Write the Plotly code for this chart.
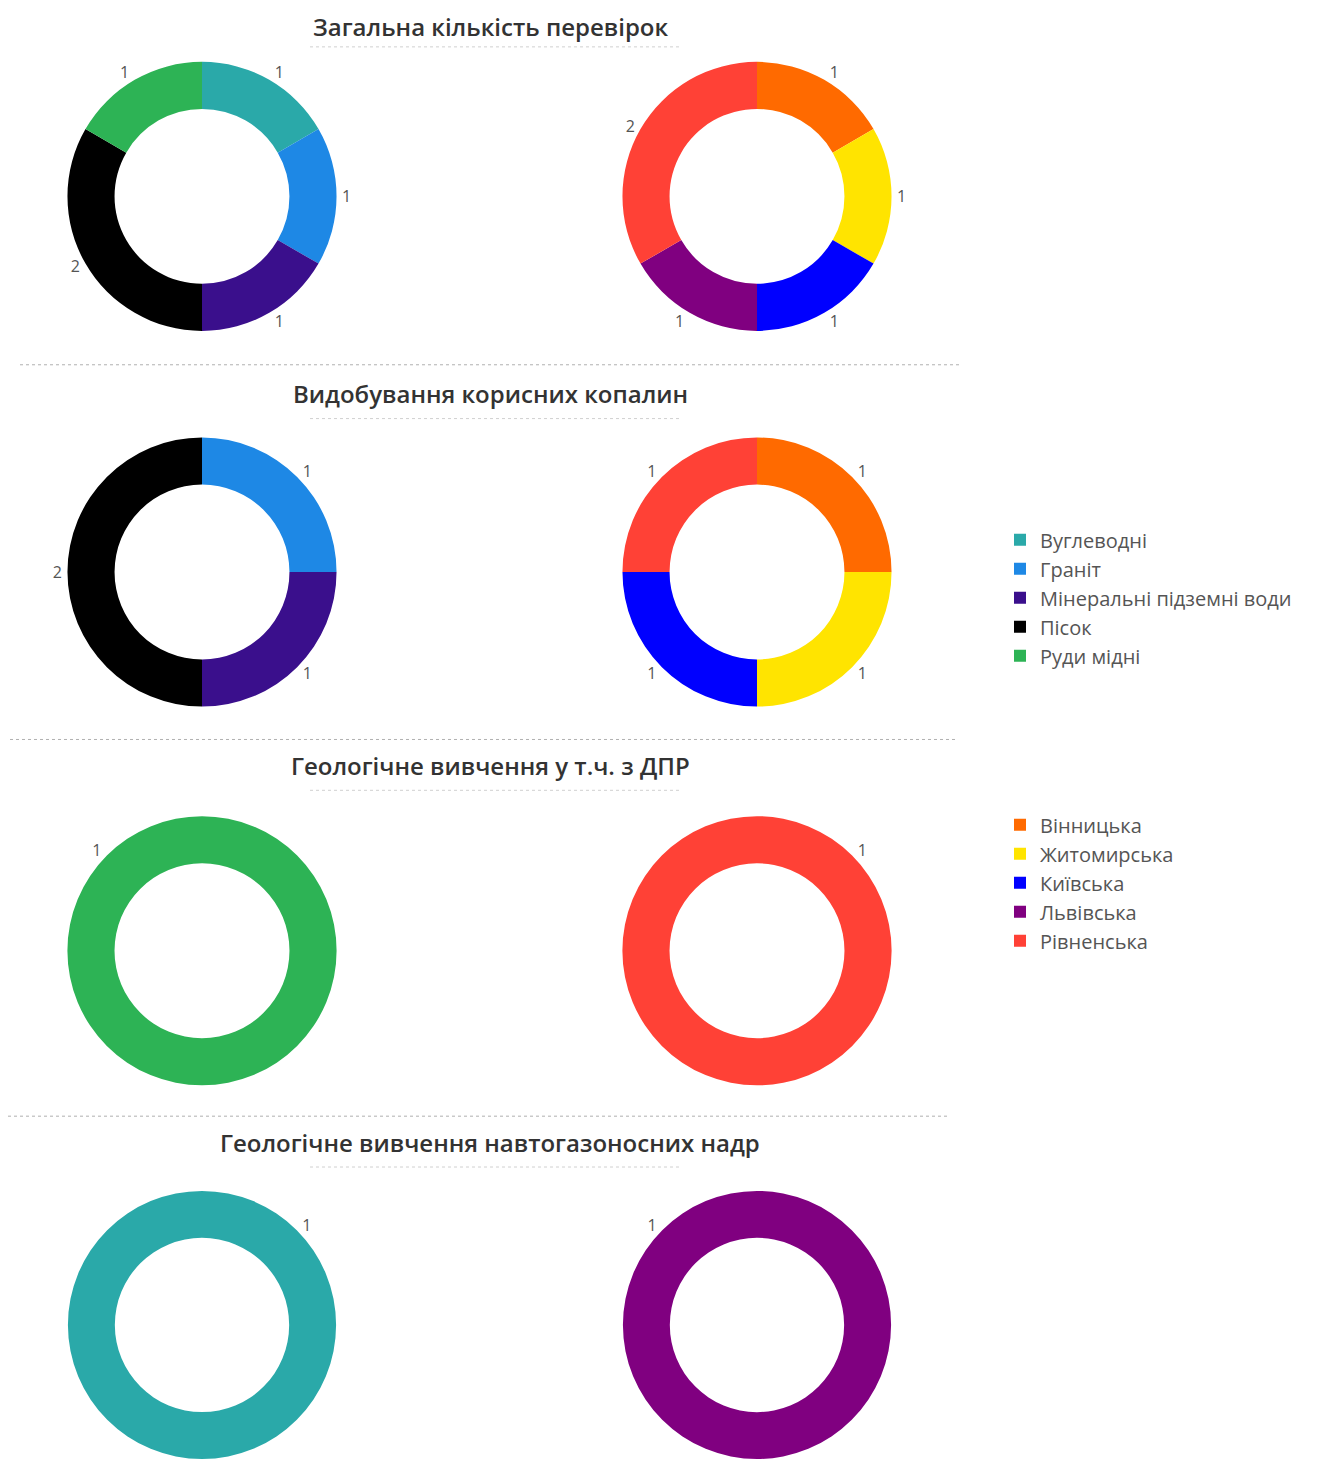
import plotly.graph_objects as go

VW, VH = 1317, 1464
OFF = 8  # default page body margin
W, H = VW - OFF, VH - OFF

titles = [
    "Загальна кількість перевірок",
    "Видобування корисних копалин",
    "Геологічне вивчення у т.ч. з ДПР",
    "Геологічне вивчення навтогазоносних надр",
]

mineral_colors = {
    "Вуглеводні": "#2AA9A9",
    "Граніт": "#1E88E5",
    "Мінеральні підземні води": "#3A0F8C",
    "Пісок": "#000000",
    "Руди мідні": "#2DB355",
}
region_colors = {
    "Вінницька": "#FF6A00",
    "Житомирська": "#FFE400",
    "Київська": "#0000FF",
    "Львівська": "#800080",
    "Рівненська": "#FF4136",
}

# left donuts: by mineral
left_labels = [
    ["Вуглеводні", "Граніт", "Мінеральні підземні води", "Пісок", "Руди мідні"],
    ["Граніт", "Мінеральні підземні води", "Пісок"],
    ["Руди мідні"],
    ["Вуглеводні"],
]
left_values = [
    [1, 1, 1, 2, 1],
    [1, 1, 2],
    [1],
    [1],
]
# right donuts: by region
right_labels = [
    ["Вінницька", "Житомирська", "Київська", "Львівська", "Рівненська"],
    ["Вінницька", "Житомирська", "Київська", "Рівненська"],
    ["Рівненська"],
    ["Львівська"],
]
right_values = [
    [1, 1, 1, 1, 2],
    [1, 1, 1, 1],
    [1],
    [1],
]
# start angle per donut (only matters for where the single-slice label sits)
left_rot = [0, 0, 135, -135]
right_rot = [0, 0, -135, 135]

# positions in picture pixels
row_cy = [197, 574, 954, 1330]
R = 135
left_cx, right_cx = 202, 757

def px_x(x):
    return (x - OFF) / W

def px_y(y):
    return 1 - (y - OFF) / H

def clamp(v):
    return max(0.0, min(1.0, v))

def xdom(cx):
    return [clamp(px_x(cx - R)), clamp(px_x(cx + R))]

def ydom(cy):
    return [clamp(px_y(cy + R)), clamp(px_y(cy - R))]

label_font = dict(size=16, color="#555", family="Open Sans")

fig = go.Figure()
for i in range(4):
    fig.add_trace(go.Pie(
        labels=left_labels[i], values=left_values[i],
        marker=dict(colors=[mineral_colors[l] for l in left_labels[i]]),
        hole=0.65, sort=False, direction="clockwise", rotation=left_rot[i],
        textinfo="value", textposition="outside",
        outsidetextfont=label_font,
        domain=dict(x=xdom(left_cx), y=ydom(row_cy[i])),
        legend="legend", showlegend=True,
    ))
    fig.add_trace(go.Pie(
        labels=right_labels[i], values=right_values[i],
        marker=dict(colors=[region_colors[l] for l in right_labels[i]]),
        hole=0.65, sort=False, direction="clockwise", rotation=right_rot[i],
        textinfo="value", textposition="outside",
        outsidetextfont=label_font,
        domain=dict(x=xdom(right_cx), y=ydom(row_cy[i])),
        legend="legend2", showlegend=True,
    ))

title_y = [22, 395, 768, 1146]
for k, (t, ty) in enumerate(zip(titles, title_y)):
    if k == 0:
        ypos, yanc = 1.0, "top"
    else:
        ypos, yanc = px_y(ty), "middle"
    fig.add_annotation(text=t, x=px_x(490), y=ypos, xref="paper", yref="paper",
                       showarrow=False, xanchor="center", yanchor=yanc,
                       font=dict(size=24, color="#333", family="Open Sans", weight=600))
    fig.add_shape(type="line", xref="paper", yref="paper",
                  x0=px_x(310), x1=px_x(680), y0=px_y(ty + 25), y1=px_y(ty + 25),
                  line=dict(color="#d0d0d0", width=1, dash="dot"))

for y, x0, x1 in [(366, 20, 962), (742, 10, 955), (1120, 8, 948)]:
    fig.add_shape(type="line", xref="paper", yref="paper",
                  x0=px_x(x0), x1=px_x(x1), y0=px_y(y), y1=px_y(y),
                  line=dict(color="#b0b0b0", width=1, dash="dot"))

legend_font = dict(size=20, color="#555", family="Open Sans")
fig.update_layout(
    width=W, height=H,
    margin=dict(l=0, r=0, t=0, b=0),
    paper_bgcolor="white", plot_bgcolor="white",
    legend=dict(x=px_x(1000), y=px_y(522), xanchor="left", yanchor="top",
                font=legend_font, bgcolor="rgba(0,0,0,0)"),
    legend2=dict(x=px_x(1000), y=px_y(808), xanchor="left", yanchor="top",
                 font=legend_font, bgcolor="rgba(0,0,0,0)"),
)

fig.write_html("out.html")
